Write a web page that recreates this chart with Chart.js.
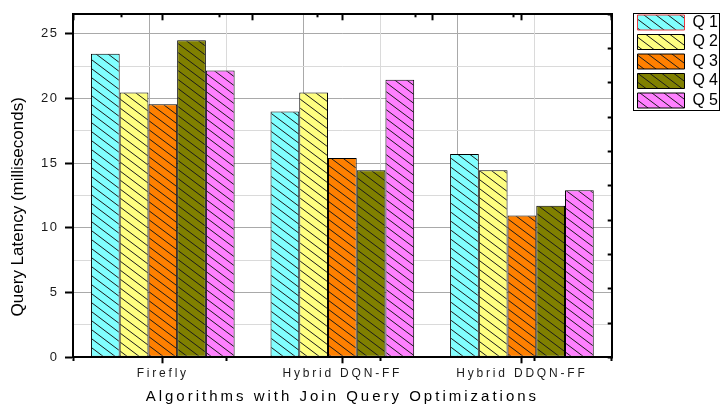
<!DOCTYPE html>
<html>
<head>
<meta charset="utf-8">
<script src="https://cdn.jsdelivr.net/npm/chart.js@4.4.1/dist/chart.umd.min.js"></script>
<style>
  html, body { margin: 0; padding: 0; background: #ffffff; }
  canvas { display: block; }
</style>
</head>
<body>
<canvas id="chart" width="722" height="406"></canvas>
<script>
// Query latency per algorithm and query (milliseconds)
const categories = ['Firefly', 'Hybrid DQN-FF', 'Hybrid DDQN-FF'];
const seriesNames = ['Q1', 'Q2', 'Q3', 'Q4', 'Q5'];
const q1 = [23.45, 19.0, 15.7];
const q2 = [20.45, 20.45, 14.45];
const q3 = [19.55, 15.4, 10.95];
const q4 = [24.5, 14.45, 11.7];
const q5 = [22.15, 21.45, 12.9];
const yTickLabels = ['0', '5', '10', '15', '20', '25'];
const xTitle = 'Algorithms with Join Query Optimizations';
const yTitle = 'Query Latency (milliseconds)';

const FONT = '"Liberation Sans", Arial, Helvetica, sans-serif';
const fills = ['#80ffff', '#ffff80', '#ff8000', '#808000', '#ff80ff'];
const GRID_MAJOR = '#a9a9a9';
const GRID_MINOR = '#dadada';
const NONE = 'rgba(0,0,0,0)';

Chart.defaults.font.family = FONT;

const canvas = document.getElementById('chart');
const ctx = canvas.getContext('2d');

// diagonal hatch fill ("\\" direction) on top of a solid colour
function hatch(color) {
  const w = 12, h = 9;
  const tile = document.createElement('canvas');
  tile.width = w; tile.height = h;
  const g = tile.getContext('2d');
  g.fillStyle = color;
  g.fillRect(0, 0, w, h);
  g.strokeStyle = '#1a1a1a';
  g.lineWidth = 1;
  g.beginPath();
  for (let k = -1; k <= 1; k++) {
    g.moveTo(-1, k * h - h / w);
    g.lineTo(w + 1, k * h + h + h / w);
  }
  g.stroke();
  return ctx.createPattern(tile, 'repeat');
}

const seriesValues = [q1, q2, q3, q4, q5];
const datasets = seriesNames.map((name, i) => ({
  label: name,
  data: seriesValues[i],
  backgroundColor: hatch(fills[i]),
  borderColor: '#000000',
  borderWidth: 1,
  borderSkipped: false,
  categoryPercentage: 0.8,
  barPercentage: 1.0,
  xAxisID: 'x',
  yAxisID: 'y'
}));

// tick value from a scriptable grid context (undefined outside tick context)
const tv = (c) => (c && c.tick) ? c.tick.value : undefined;
const isWhole = (c) => { const v = tv(c); return v !== undefined && Math.abs(v - Math.round(v)) < 1e-6; };
const isMultiple = (c, m) => { const v = tv(c); return v !== undefined && Math.abs(v / m - Math.round(v / m)) < 1e-6; };

// run a drawing method with extra letter spacing
function spaced(obj, name, px) {
  if (!obj || obj['__sp_' + name]) return;
  const orig = obj[name];
  obj[name] = function (...args) {
    const c = this.ctx;
    const prev = c.letterSpacing;
    c.letterSpacing = px;
    try { return orig.apply(this, args); } finally { c.letterSpacing = prev; }
  };
  obj['__sp_' + name] = true;
}
// run a drawing method moved along y
function shifted(obj, name, dy) {
  if (!obj || obj['__sh_' + name]) return;
  const orig = obj[name];
  obj[name] = function (...args) {
    const c = this.ctx;
    c.save();
    c.translate(0, dy);
    try { return orig.apply(this, args); } finally { c.restore(); }
  };
  obj['__sh_' + name] = true;
}

const textStyle = {
  id: 'textStyle',
  beforeDraw(chart) {
    spaced(chart.scales.x, 'drawLabels', '2.8px');
    spaced(chart.scales.x, 'drawTitle', '3px');
    spaced(chart.scales.y, 'drawLabels', '1.5px');
    spaced(chart.legend, 'draw', '4px');
    shifted(chart.scales.y, 'drawTitle', 21);
  }
};

// thin frame around the legend entries
const legendFrame = {
  id: 'legendFrame',
  afterDraw(chart) {
    const lg = chart.legend;
    if (!lg || !lg.legendHitBoxes || !lg.legendHitBoxes.length) return;
    const boxes = lg.legendHitBoxes;
    const last = boxes[boxes.length - 1];
    const c = chart.ctx;
    const x0 = Math.round(lg.left - 1.5) + 0.5;
    const y0 = Math.round(lg.top + 1.5) + 0.5;
    const x1 = Math.round(lg.right - 1) + 0.5;
    const y1 = Math.round(last.top + last.height + 1) + 0.5;
    c.save();
    c.strokeStyle = '#000000';
    c.lineWidth = 1;
    c.strokeRect(x0, y0, x1 - x0, y1 - y0);
    c.restore();
  }
};

new Chart(ctx, {
  type: 'bar',
  data: { labels: categories, datasets },
  plugins: [textStyle, legendFrame],
  options: {
    responsive: false,
    maintainAspectRatio: false,
    animation: false,
    devicePixelRatio: 1,
    layout: { padding: { left: 0, right: 2, top: 11, bottom: 0 } },
    plugins: {
      tooltip: { enabled: false },
      legend: {
        position: 'right',
        align: 'start',
        maxWidth: 86,
        labels: {
          boxWidth: 47,
          boxHeight: 15,
          padding: 3.5,
          color: '#000000',
          font: { family: FONT, size: 16 },
          generateLabels(chart) {
            const items = Chart.defaults.plugins.legend.labels.generateLabels(chart);
            items.forEach((it, i) => {
              it.lineWidth = 1;
              it.strokeStyle = i === 0 ? '#e8383d' : '#000000';
            });
            return items;
          }
        }
      }
    },
    scales: {
      x: {
        type: 'category',
        position: 'bottom',
        offset: true,
        grid: { offset: false, drawOnChartArea: false, tickLength: 6, tickWidth: 2, tickColor: '#000000' },
        border: { display: true, color: '#000000', width: 2, z: 1 },
        ticks: { color: '#1a1a1a', font: { family: FONT, size: 12 }, padding: 3.5, autoSkip: false, maxRotation: 0 },
        title: { display: true, text: xTitle, color: '#000000', font: { family: FONT, size: 15 }, padding: { top: 0, bottom: 0 } },
        afterFit(s) { s.height = 48.7; }
      },
      y: {
        type: 'linear',
        position: 'left',
        min: 0,
        max: 26.5,
        ticks: {
          stepSize: 5,
          includeBounds: false,
          color: '#1a1a1a',
          font: { family: FONT, size: 13 },
          padding: 6.5,
          callback: (v) => yTickLabels.includes(String(v)) ? String(v) : ''
        },
        grid: { color: GRID_MAJOR, lineWidth: 1, tickLength: 8, tickWidth: 2, tickColor: '#000000' },
        border: { display: true, color: '#000000', width: 2, z: 1 },
        title: { display: true, text: yTitle, color: '#000000', font: { family: FONT, size: 17 }, padding: { top: 7.8, bottom: 0 } },
        afterFit(s) { s.width = 73; }
      },
      // half-step vertical grid and small bottom ticks
      xGrid: {
        type: 'linear',
        axis: 'x',
        position: { y: 0 },
        min: 0.5,
        max: 3.5,
        ticks: { stepSize: 0.5, display: false, includeBounds: false },
        grid: {
          lineWidth: 1,
          color: (c) => isWhole(c) ? GRID_MAJOR : GRID_MINOR,
          tickLength: 4,
          tickWidth: 2,
          tickColor: (c) => isWhole(c) ? NONE : '#000000'
        },
        border: { display: false }
      },
      // half-step horizontal grid and small left ticks
      yMinor: {
        type: 'linear',
        axis: 'y',
        position: { xGrid: 0.5 },
        min: 0,
        max: 26.5,
        ticks: { stepSize: 2.5, display: false, includeBounds: false },
        grid: {
          lineWidth: 1,
          color: (c) => isMultiple(c, 5) ? NONE : GRID_MINOR,
          tickLength: 4,
          tickWidth: 2,
          tickColor: (c) => isMultiple(c, 5) ? NONE : '#000000'
        },
        border: { display: false }
      },
      // top frame edge with inward ticks
      xTop: {
        type: 'linear',
        axis: 'x',
        position: 'top',
        weight: 1,
        min: 0,
        max: 10,
        ticks: { stepSize: 2, display: false, includeBounds: false },
        grid: { drawOnChartArea: false, tickLength: -6, tickWidth: 2, tickColor: '#000000' },
        border: { display: true, color: '#000000', width: 2, z: 1 },
        afterFit(s) { s.height = 3; }
      },
      xTopMinor: {
        type: 'linear',
        axis: 'x',
        position: 'top',
        weight: 0,
        min: 0,
        max: 10,
        ticks: { stepSize: 1, display: false, includeBounds: false },
        grid: {
          drawOnChartArea: false,
          tickLength: -3,
          tickWidth: 2,
          tickColor: (c) => isMultiple(c, 2) ? NONE : '#000000'
        },
        border: { display: false },
        afterFit(s) { s.height = 0; }
      },
      // right frame edge with inward ticks
      yRight: {
        type: 'linear',
        axis: 'y',
        position: 'right',
        min: 0,
        max: 10,
        ticks: { stepSize: 1, display: false, includeBounds: false },
        grid: { drawOnChartArea: false, tickLength: -4, tickWidth: 2, tickColor: '#000000' },
        border: { display: true, color: '#000000', width: 2, z: 1 },
        afterFit(s) { s.width = 22.3; }
      }
    }
  }
});
</script>
</body>
</html>
